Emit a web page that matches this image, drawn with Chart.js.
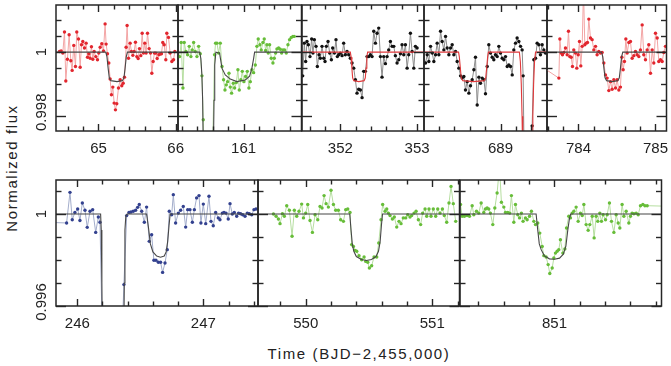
<!DOCTYPE html>
<html><head><meta charset="utf-8">
<script src="https://cdn.jsdelivr.net/npm/chart.js@4.4.1/dist/chart.umd.min.js"></script>
<style>
body{margin:0;background:#fff;}
#wrap{position:relative;width:671px;height:366px;overflow:hidden;background:#fff;}
canvas{position:absolute;}
.ttl{position:absolute;font-family:"Liberation Sans",Arial,sans-serif;font-size:15px;color:#222;white-space:nowrap;letter-spacing:1.6px;}
</style></head>
<body><div id="wrap">
<div class="ttl" style="left:11px;top:168px;transform:translate(-50%,-50%) rotate(-90deg);">Normalized flux</div>
<div class="ttl" style="left:359px;top:353px;transform:translate(-50%,-50%);">Time (BJD−2,455,000)</div>
</div>
<script>
// ---------- DATA ----------
const p1Time=[64.495,64.516,64.538,64.560,64.577,64.598,64.620,64.642,64.659,64.680,64.702,64.719,64.741,64.763,64.780,64.797,64.819,64.840,64.858,64.875,64.892,64.909,64.927,64.944,64.965,64.987,65.004,65.022,65.043,65.065,65.086,65.099,65.117,65.134,65.151,65.168,65.186,65.203,65.220,65.237,65.259,65.281,65.302,65.320,65.337,65.358,65.371,65.389,65.410,65.427,65.445,65.462,65.479,65.497,65.514,65.531,65.548,65.566,65.583,65.600,65.617,65.635,65.656,65.674,65.691,65.708,65.725,65.743,65.760,65.782,65.799,65.816,65.833,65.851,65.872,65.885,65.907,65.928,65.950,65.972,65.989];
const p1Flux=[1.00002,1.00004,0.99997,1.00063,0.99910,0.99978,1.00054,0.99973,0.99943,1.00021,0.99955,1.00063,1.00041,0.99953,1.00023,1.00033,1.00013,1.00028,0.99984,0.99995,0.99981,1.00017,0.99978,1.00002,0.99986,0.99976,0.99997,1.00015,1.00026,1.00004,1.00088,1.00025,0.99995,0.99966,0.99916,0.99867,0.99891,0.99841,0.99820,0.99839,0.99888,0.99914,0.99895,0.99903,0.99922,1.00015,1.00083,0.99981,1.00028,1.00002,0.99990,1.00002,1.00031,0.99986,0.99980,1.00011,0.99989,1.00059,0.99997,1.00028,0.99997,1.00059,1.00011,0.99997,0.99934,0.99971,0.99997,0.99997,0.99980,0.99992,0.99994,0.99995,1.00030,1.00023,0.99976,1.00059,1.00046,0.99997,0.99971,0.99976,1.00002];
const p1ModelTime=[64.40,65.095,65.110,65.125,65.140,65.160,65.240,65.310,65.330,65.345,65.360,65.375,66.10];
const p1ModelFlux=[1,1,0.99985,0.9995,0.9992,0.99911,0.99908,0.99911,0.9992,0.9995,0.99985,1,1];

const p2Time=[160.169,160.190,160.212,160.229,160.251,160.273,160.294,160.316,160.333,160.351,160.372,160.394,160.416,160.437,160.459,160.476,160.498,160.541,160.584,160.602,160.623,160.636,160.654,160.675,160.697,160.719,160.740,160.758,160.775,160.792,160.810,160.827,160.844,160.866,160.883,160.905,160.926,160.944,160.965,160.983,161.004,161.026,161.048,161.069,161.087,161.108,161.130,161.152,161.173,161.190,161.212,161.229,161.251,161.268,161.286,161.303,161.320,161.338,161.359,161.381,161.398,161.416,161.433,161.455,161.476,161.494,161.511,161.532,161.554,161.576,161.597,161.619,161.641,161.658];
const p2Flux=[0.99986,1.00030,0.99888,1.00030,1.00002,0.99992,1.00018,0.99986,1.00007,1.00030,1.00002,0.99986,1.00018,0.99995,0.99926,0.99789,0.99550,0.99500,0.99550,0.99750,0.99992,1.00028,1.00028,0.99997,1.00028,0.99955,0.99914,0.99882,0.99898,0.99908,0.99934,0.99891,0.99872,0.99903,0.99888,0.99905,0.99945,0.99882,0.99914,0.99940,0.99908,0.99924,0.99940,0.99888,0.99908,0.99945,0.99936,0.99960,1.00018,1.00041,1.00023,1.00007,1.00030,1.00041,1.00005,1.00023,0.99997,1.00023,0.99981,0.99966,0.99981,0.99997,1.00010,1.00013,1.00009,0.99997,1.00007,1.00007,0.99997,1.00023,1.00039,1.00046,1.00049,1.00049];
const p2ModelTime=[160.10,160.430,160.445,160.458,160.468,160.476,160.485,160.600,160.608,160.616,160.625,160.640,160.688,160.719,160.762,160.827,160.913,161.022,161.078,161.108,161.130,161.143,161.80];
const p2ModelFlux=[1,1,0.9998,0.9993,0.9985,0.9970,0.9940,0.9940,0.9970,0.9985,0.9996,1,0.99997,0.9995,0.99929,0.99916,0.99908,0.99913,0.99925,0.9995,0.9998,1,1];

const p3Time=[351.509,351.530,351.548,351.565,351.583,351.604,351.626,351.643,351.661,351.683,351.700,351.722,351.739,351.761,351.783,351.800,351.817,351.839,351.861,351.883,351.900,351.922,351.943,351.961,351.978,352.000,352.022,352.043,352.065,352.087,352.109,352.130,352.152,352.174,352.196,352.217,352.239,352.261,352.283,352.304,352.326,352.348,352.370,352.391,352.413,352.435,352.457,352.478,352.500,352.522,352.543,352.565,352.587,352.609,352.630,352.652,352.674,352.696,352.717,352.739,352.761,352.783,352.804,352.826,352.848,352.870,352.891,352.913,352.935,352.957,352.978,353.000];
const p3Flux=[0.99926,1.00028,0.99971,1.00033,1.00023,0.99986,1.00041,0.99997,1.00039,1.00018,0.99955,0.99992,0.99981,1.00018,0.99981,0.99971,1.00018,1.00033,0.99997,0.99976,1.00013,0.99997,1.00039,0.99986,0.99992,0.99997,0.99989,1.00028,0.99992,1.00002,0.99992,0.99981,0.99966,0.99950,0.99914,0.99872,0.99884,0.99882,0.99858,0.99940,0.99940,0.99986,0.99986,0.99992,0.99986,1.00065,1.00028,1.00059,1.00075,0.99986,0.99922,0.99986,0.99964,0.99986,1.00007,1.00033,1.00018,1.00018,0.99989,0.99966,0.99976,0.99995,1.00023,0.99992,1.00023,0.99950,0.99992,1.00059,1.00002,0.99950,1.00018,1.00013];
const p3ModelTime=[351.40,352.130,352.140,352.150,352.160,352.175,352.240,352.310,352.325,352.335,352.345,352.355,353.20];
const p3ModelFlux=[1,1,0.99985,0.9995,0.9992,0.99911,0.99908,0.99911,0.9992,0.9995,0.99985,1,1];

const p4Time=[688.026,688.048,688.069,688.091,688.113,688.134,688.156,688.177,688.199,688.221,688.242,688.264,688.286,688.307,688.329,688.351,688.372,688.394,688.416,688.437,688.459,688.481,688.502,688.524,688.545,688.567,688.589,688.610,688.632,688.654,688.675,688.697,688.719,688.740,688.762,688.784,688.805,688.827,688.848,688.870,688.892,688.913,688.935,688.957,688.978,689.000,689.022,689.043,689.065,689.087,689.108,689.130,689.152,689.173,689.195,689.216,689.238,689.260,689.281,689.294,689.316,689.350,689.381,689.411,689.433,689.455,689.476,689.498,689.519,689.541,689.563,689.584];
const p4Flux=[0.99966,0.99992,0.99971,1.00018,0.99997,0.99971,0.99992,1.00028,0.99992,1.00065,1.00033,1.00007,1.00049,1.00013,0.99992,1.00013,1.00023,0.99992,1.00002,0.99971,0.99950,0.99926,0.99919,0.99924,0.99882,0.99908,0.99872,0.99895,0.99914,0.99945,0.99984,0.99835,0.99922,0.99903,0.99919,0.99914,0.99870,0.99955,1.00023,0.99997,0.99984,0.99976,0.99992,0.99986,1.00018,0.99997,0.99981,0.99976,0.99986,0.99955,0.99960,0.99955,0.99929,1.00007,1.00028,1.00044,1.00033,1.00018,1.00007,0.99926,0.99500,0.99500,0.99500,0.99770,0.99976,0.99981,1.00028,1.00023,0.99992,1.00023,1.00007,0.99997];
const p4ModelTime=[687.90,688.455,688.465,688.478,688.490,688.510,688.650,688.790,688.808,688.820,688.833,688.843,689.245,689.258,689.270,689.280,689.290,689.300,689.400,689.410,689.420,689.430,689.442,689.455,689.70];
const p4ModelFlux=[1,1,0.99985,0.9995,0.9992,0.99911,0.99908,0.99911,0.9992,0.9995,0.99985,1,1,0.9997,0.9990,0.9980,0.9965,0.9940,0.9940,0.9965,0.9980,0.9990,0.9997,1,1];

const p5Time=[783.240,783.745,783.758,783.775,783.792,783.810,783.831,783.853,783.870,783.887,783.905,783.922,783.939,783.961,783.978,783.996,784.013,784.030,784.048,784.065,784.082,784.100,784.117,784.134,784.156,784.177,784.199,784.221,784.242,784.264,784.286,784.307,784.329,784.351,784.372,784.394,784.416,784.437,784.459,784.481,784.502,784.524,784.545,784.563,784.580,784.597,784.615,784.632,784.654,784.675,784.697,784.719,784.740,784.762,784.784,784.805,784.827,784.848,784.870,784.892,784.913,784.935,784.957,784.978,785.000,785.022,785.043,785.065,785.087,785.108,785.130];
const p5Flux=[1.00000,0.99919,1.00041,0.99997,0.99992,0.99999,1.00013,0.99992,1.00065,0.99986,0.99984,0.99955,1.00007,0.99997,0.99950,0.99992,1.00033,0.99957,1.00018,1.00195,1.00023,1.00028,1.00030,1.00103,1.00044,1.00039,1.00007,1.00018,0.99992,1.00002,0.99997,0.99999,0.99966,0.99929,0.99919,0.99880,0.99908,0.99884,0.99914,0.99888,0.99914,0.99882,0.99891,0.99984,0.99945,0.99971,1.00041,0.99997,1.00030,1.00033,0.99981,0.99989,1.00002,0.99992,0.99986,1.00007,1.00085,0.99992,0.99976,1.00007,1.00023,0.99934,1.00007,0.99966,1.00059,1.00044,0.99971,0.99976,0.99971,0.99999,1.00018];
const p5ModelTime=[783.50,784.300,784.315,784.330,784.345,784.365,784.440,784.510,784.530,784.545,784.560,784.575,785.20];
const p5ModelFlux=[1,1,0.99985,0.9995,0.9992,0.99911,0.99908,0.99911,0.9992,0.9995,0.99985,1,1];

const b1Time=[245.750,245.915,245.942,245.960,245.981,246.003,246.021,246.040,246.061,246.079,246.101,246.122,246.146,246.167,246.180,246.201,246.350,246.370,246.392,246.410,246.426,246.444,246.463,246.479,246.492,246.511,246.532,246.550,246.571,246.590,246.608,246.624,246.643,246.661,246.677,246.696,246.714,246.730,246.749,246.762,246.780,246.802,246.820,246.841,246.860,246.876,246.894,246.913,246.929,246.947,246.966,246.981,247.000,247.019,247.045,247.061,247.079,247.098,247.119,247.132,247.151,247.164,247.180,247.198,247.212,247.230,247.246,247.265,247.280,247.296,247.312,247.331,247.349,247.365,247.384,247.402,247.418];
const b1Flux=[0.99964,0.99961,1.00094,0.99975,1.00007,1.00022,0.99972,1.00048,1.00016,0.99942,1.00012,1.00019,0.99920,0.99987,0.99964,0.99400,0.99400,0.99693,0.99993,1.00007,1.00009,1.00012,1.00016,1.00029,1.00041,1.00012,0.99964,1.00030,0.99881,0.99910,0.99799,0.99799,0.99790,0.99790,0.99746,0.99787,0.99845,1.00012,0.99997,1.00084,0.99961,1.00004,1.00016,1.00033,0.99943,1.00019,1.00019,0.99964,1.00019,1.00070,1.00080,0.99961,1.00043,0.99958,1.00077,0.99968,0.99949,1.00007,0.99983,0.99975,1.00004,1.00007,1.00004,0.99978,1.00045,1.00000,1.00007,0.99990,1.00004,1.00001,0.99997,0.99990,1.00004,1.00001,0.99997,1.00019,1.00022];
const b1ModelTime=[245.70,246.185,246.190,246.195,246.200,246.368,246.373,246.378,246.385,246.395,246.550,246.565,246.580,246.600,246.630,246.660,246.690,246.705,246.717,246.728,246.737,247.50];
const b1ModelFlux=[1,1,0.9993,0.9970,0.9940,0.9940,0.9970,0.9993,0.9999,1,1,0.9994,0.9987,0.99835,0.99817,0.99812,0.99817,0.99835,0.9988,0.9995,1,1];

const b2Time=[549.745,549.766,549.784,549.797,549.816,549.831,549.850,549.871,549.892,549.910,549.929,549.947,549.968,549.982,550.000,550.016,550.034,550.053,550.074,550.095,550.113,550.129,550.145,550.161,550.179,550.200,550.219,550.237,550.258,550.276,550.298,550.316,550.332,550.350,550.363,550.377,550.390,550.403,550.421,550.442,550.461,550.474,550.490,550.503,550.521,550.540,550.561,550.577,550.595,550.608,550.627,550.640,550.653,550.666,550.685,550.700,550.719,550.737,550.753,550.771,550.790,550.806,550.824,550.837,550.856,550.872,550.890,550.908,550.924,550.943,550.956,550.974,550.990,551.008,551.027,551.043,551.061,551.080,551.095,551.114,551.132,551.148,551.166,551.185];
const b2Flux=[1.00000,0.99990,0.99978,0.99958,1.00001,0.99990,1.00036,1.00016,0.99903,1.00016,0.99990,1.00012,1.00043,0.99983,1.00004,1.00041,0.99972,0.99920,0.99997,0.99975,1.00033,1.00026,1.00080,1.00045,1.00030,1.00103,1.00041,1.00016,1.00016,0.99975,0.99968,1.00019,1.00022,1.00007,0.99867,0.99859,0.99842,0.99838,0.99819,0.99801,0.99813,0.99794,0.99790,0.99765,0.99775,0.99813,0.99813,0.99874,0.99975,1.00041,1.00012,1.00022,1.00004,0.99993,0.99978,0.99987,0.99943,0.99968,0.99958,0.99983,0.99983,0.99997,0.99987,0.99993,1.00004,1.00012,0.99975,0.99954,1.00004,1.00022,0.99990,1.00022,0.99990,1.00022,0.99990,1.00022,1.00004,1.00022,0.99993,0.99964,1.00048,1.00120,1.00045,0.99968];
const b2ModelTime=[549.50,550.348,550.358,550.368,550.380,550.400,550.440,550.480,550.520,550.555,550.575,550.588,550.598,550.607,551.30];
const b2ModelFlux=[1,1,0.9993,0.9987,0.99838,0.99815,0.99802,0.99798,0.99802,0.99815,0.99838,0.9988,0.9995,1,1];

const b3Time=[850.258,850.271,850.289,850.310,850.329,850.350,850.363,850.384,850.402,850.421,850.442,850.455,850.468,850.481,850.494,850.513,850.529,850.547,850.566,850.581,850.600,850.613,850.631,850.647,850.660,850.679,850.692,850.710,850.724,850.739,850.752,850.771,850.784,850.803,850.818,850.837,850.850,850.868,850.884,850.903,850.916,850.934,850.950,850.963,850.982,850.995,851.008,851.021,851.034,851.047,851.066,851.082,851.095,851.113,851.126,851.140,851.153,851.171,851.187,851.205,851.219,851.232,851.250,851.266,851.279,851.298,851.313,851.329,851.342,851.358,851.371,851.384,851.403,851.416,851.434,851.450,851.469,851.487,851.503,851.516,851.534,851.548,851.566,851.587,851.600,851.613,851.627,851.645,851.661,851.679,851.698,851.714,851.732,851.950];
const b3Flux=[1.00041,0.99990,0.99990,0.99993,0.99990,1.00036,0.99997,1.00012,1.00004,1.00048,1.00007,1.00022,1.00026,1.00022,1.00004,0.99954,1.00026,1.00091,1.00207,1.00051,1.00030,1.00007,1.00007,1.00004,1.00080,0.99964,1.00041,0.99997,0.99983,1.00004,0.99968,0.99983,0.99975,0.99990,1.00012,0.99968,0.99954,0.99961,0.99917,0.99859,0.99819,0.99813,0.99780,0.99741,0.99765,0.99809,0.99830,0.99838,0.99845,0.99888,0.99830,0.99848,0.99939,0.99990,0.99983,1.00004,1.00012,1.00030,0.99968,1.00004,0.99993,1.00041,0.99954,0.99929,0.99954,0.99990,0.99896,0.99990,0.99968,1.00004,0.99968,0.99997,0.99975,0.99997,1.00048,0.99968,0.99920,0.99997,0.99961,0.99939,1.00041,0.99990,1.00012,0.99961,0.99990,1.00004,1.00001,1.00004,0.99997,1.00036,1.00041,1.00036,1.00036,1.00033];
const b3ModelTime=[850.10,850.855,850.868,850.880,850.895,850.920,850.960,851.000,851.040,851.070,851.090,851.105,851.118,851.128,851.95];
const b3ModelFlux=[1,1,0.9993,0.9987,0.99845,0.99818,0.99805,0.99803,0.99808,0.99825,0.9986,0.9993,0.9998,1,1];

// tick labels
const p1Ticks=[65,66], p2Ticks=[161], p3Ticks=[352,353], p4Ticks=[689], p5Ticks=[784,785];
const b1Ticks=[246,247], b2Ticks=[550,551], b3Ticks=[851];
const topYTicks=[1,0.998], topYLabels=['1','0.998'];
const botYTicks=[1,0.996], botYLabels=['1','0.996'];

// ---------- STYLE / LAYOUT ----------
const RED={pc:'#e2262e',lc:'#f3a5a5'}, GREEN={pc:'#67bd39',lc:'#b6dea0'},
      BLACK={pc:'#111111',lc:'#8c8c8c'}, NAVY={pc:'#33418f',lc:'#a3adcb'};
const GRAYM='#474747', REDM='#e0393b';
const TOPY={min:0.99754,max:1.00147,step:0.0005,major:0.002,ticks:topYTicks,labels:topYLabels};
const BOTY={min:0.996,max:1.001478,step:0.001,major:0.004,ticks:botYTicks,labels:botYLabels};
const FONT='15px "Liberation Sans", Arial, sans-serif';

const panels=[
 {box:[56,5,178,131],   x:[64.45,66.03],    y:TOPY, t:p1Time,f:p1Flux,mt:p1ModelTime,mf:p1ModelFlux,c:RED,  mc:GRAYM,xl:p1Ticks,yl:true},
 {box:[178,5,301.5,131],x:[160.148,161.752],y:TOPY, t:p2Time,f:p2Flux,mt:p2ModelTime,mf:p2ModelFlux,c:GREEN,mc:GRAYM,xl:p2Ticks},
 {box:[301.5,5,423.5,131],x:[351.50,353.09],y:TOPY, t:p3Time,f:p3Flux,mt:p3ModelTime,mf:p3ModelFlux,c:BLACK,mc:REDM, xl:p3Ticks},
 {box:[423.5,5,546.5,131],x:[688.006,689.604],y:TOPY,t:p4Time,f:p4Flux,mt:p4ModelTime,mf:p4ModelFlux,c:BLACK,mc:REDM, xl:p4Ticks},
 {box:[546.5,5,666,131],x:[783.591,785.143],y:TOPY, t:p5Time,f:p5Flux,mt:p5ModelTime,mf:p5ModelFlux,c:RED,  mc:GRAYM,xl:p5Ticks},
 {box:[56,180,258,306], x:[245.831,247.434],y:BOTY, t:b1Time,f:b1Flux,mt:b1ModelTime,mf:b1ModelFlux,c:NAVY, mc:GRAYM,xl:b1Ticks,yl:true},
 {box:[258,180,459.5,306],x:[549.623,551.215],y:BOTY,t:b2Time,f:b2Flux,mt:b2ModelTime,mf:b2ModelFlux,c:GREEN,mc:GRAYM,xl:b2Ticks},
 {box:[459.5,180,661,306],x:[850.254,851.845],y:BOTY,t:b3Time,f:b3Flux,mt:b3ModelTime,mf:b3ModelFlux,c:GREEN,mc:GRAYM,xl:b3Ticks}
];

const framePlugin={
 id:'frame',
 afterDraw(chart){
  const o=chart.options.plugins.frame; const ctx=chart.ctx; const a=chart.chartArea;
  const xs=chart.scales.x, ys=chart.scales.y;
  ctx.save();
  ctx.strokeStyle='#262626'; ctx.lineWidth=1.4; ctx.lineCap='butt';
  const line=(x1,y1,x2,y2)=>{ctx.beginPath();ctx.moveTo(x1,y1);ctx.lineTo(x2,y2);ctx.stroke();};
  // x ticks every 0.2, major at integers
  const k0=Math.ceil(xs.min/0.2-1e-9), k1=Math.floor(xs.max/0.2+1e-9);
  for(let k=k0;k<=k1;k++){
    const v=k*0.2, px=Math.round(xs.getPixelForValue(v))+0.5;
    const major=Math.abs(v-Math.round(v))<1e-6; const L=major?7:4.5;
    line(px,a.bottom,px,a.bottom-L); line(px,a.top,px,a.top+L);
  }
  // y ticks
  const Y=o.y; const j0=Math.ceil(Y.min/Y.step-1e-9), j1=Math.floor(Y.max/Y.step+1e-9);
  for(let j=j0;j<=j1;j++){
    const v=j*Y.step, py=Math.round(ys.getPixelForValue(v))+0.5;
    const r=v/Y.major; const major=Math.abs(r-Math.round(r))<1e-6; const L=major?10:5.5;
    line(a.left,py,a.left+L,py); line(a.right,py,a.right-L,py);
  }
  ctx.lineWidth=1.5;
  ctx.strokeRect(a.left,a.top,a.right-a.left,a.bottom-a.top);
  // x labels
  ctx.fillStyle='#222'; ctx.font=FONT; ctx.textAlign='center'; ctx.textBaseline='alphabetic';
  o.xl.forEach(v=>{ctx.fillText(String(v),xs.getPixelForValue(v),a.bottom+21.5);});
  // y labels (rotated)
  if(o.yl){
    Y.ticks.forEach((v,i)=>{
      ctx.save(); ctx.translate(a.left-10.5, ys.getPixelForValue(v)-(i>0?4:0)); ctx.rotate(-Math.PI/2);
      ctx.fillText(Y.labels[i],0,0); ctx.restore();
    });
  }
  ctx.restore();
 }
};

const wrap=document.getElementById('wrap');
const PL=52,PR=22,PT=5,PB=40;
panels.forEach(p=>{
  const [l,t,r,b]=p.box;
  const cv=document.createElement('canvas');
  const w=Math.round(r-l)+PL+PR, h=Math.round(b-t)+PT+PB;
  cv.width=w; cv.height=h;
  cv.style.left=(l-PL)+'px'; cv.style.top=(t-PT)+'px';
  cv.style.width=w+'px'; cv.style.height=h+'px';
  wrap.appendChild(cv);
  const model=p.mt.map((x,i)=>({x:x,y:p.mf[i]}));
  const pts=p.t.map((x,i)=>({x:x,y:p.f[i]}));
  new Chart(cv,{
    type:'line',
    data:{datasets:[
      {data:model,borderColor:p.mc,borderWidth:1.1,pointRadius:0,tension:0,order:0,clip:0,fill:false},
      {data:pts,borderColor:p.c.lc,borderWidth:1,pointRadius:1.7,pointHoverRadius:0,pointBackgroundColor:p.c.pc,pointBorderWidth:0,tension:0,order:1,clip:0,fill:false}
    ]},
    options:{
      responsive:false,animation:false,devicePixelRatio:1,events:[],
      layout:{padding:{left:PL,right:PR+(Math.round(r-l)-(r-l)),top:PT,bottom:PB}},
      scales:{
        x:{type:'linear',min:p.x[0],max:p.x[1],display:false},
        y:{type:'linear',min:p.y.min,max:p.y.max,display:false}
      },
      plugins:{legend:{display:false},tooltip:{enabled:false},frame:{y:p.y,xl:p.xl,yl:!!p.yl}}
    },
    plugins:[framePlugin]
  });
});
</script>
</body></html>
